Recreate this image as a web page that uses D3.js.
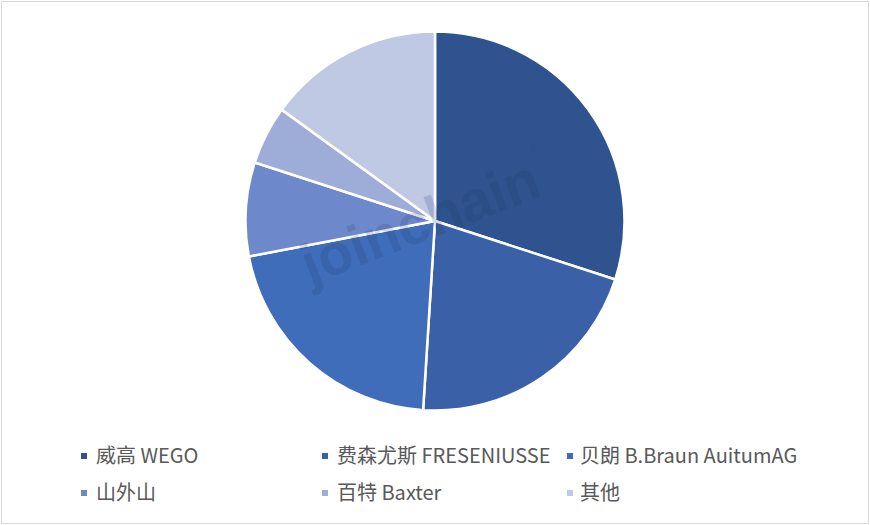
<!DOCTYPE html>
<html>
<head>
<meta charset="utf-8">
<script src="https://cdn.jsdelivr.net/npm/d3@7"></script>
<style>
html,body{margin:0;padding:0;background:#fff;}
svg{display:block;}
</style>
</head>
<body>
<svg id="chart" width="870" height="525"></svg>
<script>
const categories = ["威高 WEGO", "费森尤斯 FRESENIUSSE", "贝朗 B.Braun AuitumAG", "山外山", "百特 Baxter", "其他"];
const values = [30, 21, 21, 8, 5, 15];
const colors = ["#2F538F", "#3A60A7", "#3F6DBA", "#6E89CB", "#9EADD8", "#BFC9E4"];

const svg = d3.select("#chart");
const W = 870, H = 525;

svg.append("rect").attr("x", 1.5).attr("y", 1.5).attr("width", W - 3).attr("height", H - 3)
  .attr("fill", "#fff").attr("stroke", "#D9D9D9").attr("stroke-width", 1);

const cx = 435, cy = 221, r = 189.5;
const pie = d3.pie().value(d => d).sort(null);
const arc = d3.arc().innerRadius(0).outerRadius(r);

const g = svg.append("g").attr("transform", `translate(${cx},${cy})`);
g.selectAll("path").data(pie(values)).join("path")
  .attr("d", arc)
  .attr("fill", (d, i) => colors[i])
  .attr("stroke", "#fff").attr("stroke-width", 2.5).attr("stroke-linejoin", "round");

// watermark
const wm = svg.append("g").attr("transform", `translate(427,240) rotate(-21)`);
wm.append("text")
  .attr("text-anchor", "middle")
  .attr("font-family", "Arial, 'Liberation Sans', sans-serif")
  .attr("font-weight", "bold")
  .attr("font-size", 57)
  .attr("fill", "#1F3864").attr("fill-opacity", 0.18)
  .text("joinchain");
wm.append("text")
  .attr("x", 128).attr("y", -44)
  .attr("font-family", "Arial, 'Liberation Sans', sans-serif")
  .attr("font-size", 10)
  .attr("fill", "#1F3864").attr("fill-opacity", 0.18)
  .text("®");

// legend
const legendX = [84, 325, 570];
const legendTextGap = [12, 12, 10];
const legendY = [456, 493];
const leg = svg.append("g");
categories.forEach((c, i) => {
  const col = i % 3, row = Math.floor(i / 3);
  const x = legendX[col], y = legendY[row];
  leg.append("rect").attr("x", x - 3).attr("y", y - 3).attr("width", 6).attr("height", 6).attr("fill", colors[i]);
  leg.append("text").attr("x", x + legendTextGap[col]).attr("y", y).attr("dy", "0.35em")
    .attr("font-family", "'Noto Sans CJK SC', 'Noto Sans', sans-serif")
    .attr("font-size", 20).attr("fill", "#595959").text(c);
});
</script>
</body>
</html>
